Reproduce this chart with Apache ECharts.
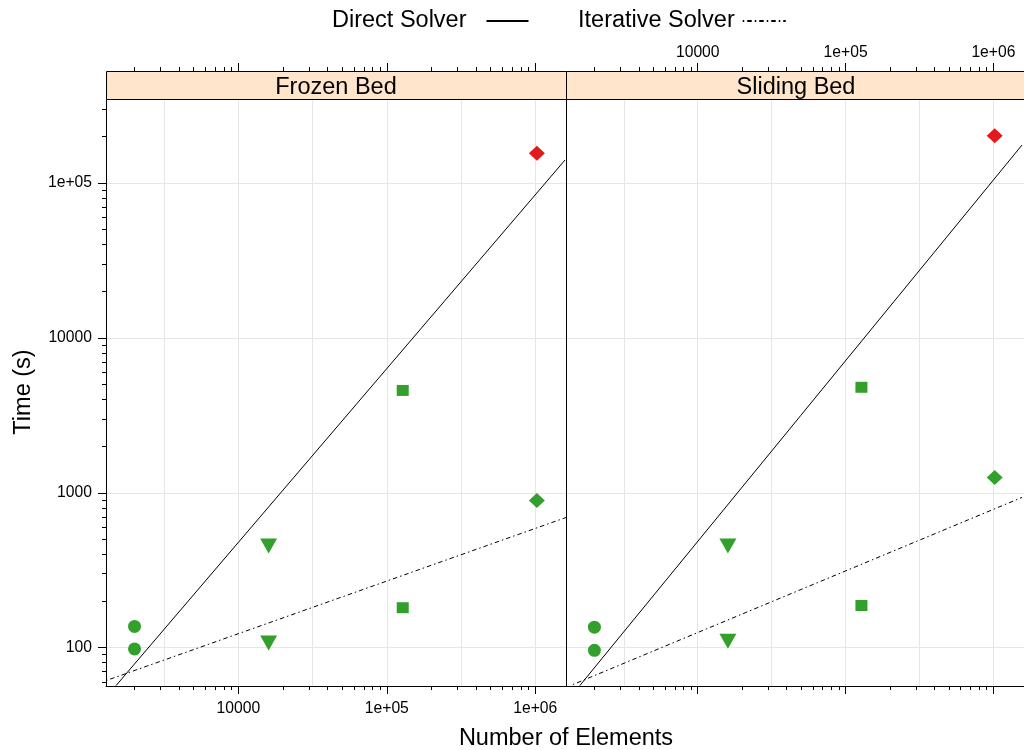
<!DOCTYPE html>
<html><head><meta charset="utf-8">
<script src="https://cdn.jsdelivr.net/npm/echarts@6/dist/echarts.min.js"></script>
<style>html,body{margin:0;padding:0;background:#fff}#c{width:1024px;height:750px}</style>
</head><body><div id="c"></div>
<script>
// ---------- data ----------
const panels = ['Frozen Bed', 'Sliding Bed'];
const legendNames = ['Direct Solver', 'Iterative Solver'];
const xTickValues = [1e4, 1e5, 1e6];
const xTickLabels = ['10000', '1e+05', '1e+06'];
const yTickValues = [100, 1000, 1e4, 1e5];
const yTickLabels = ['100', '1000', '10000', '1e+05'];
// Frozen Bed
const frozenCircle = [[2000, 137], [2000, 98]];
const frozenTriangle = [[16000, 453], [16000, 107]];
const frozenSquare = [[128000, 4580], [128000, 181]];
const frozenDiamond = [[1025000, 891]];
const frozenDiamondRed = [[1025000, 156000]];
const frozenDirect = [[1500, 56.8], [1585000, 140900]];
const frozenIterative = [[1285, 61.2], [1610000, 692]];
// Sliding Bed
const slidingCircle = [[2000, 135.5], [2000, 96]];
const slidingTriangle = [[16000, 453], [16000, 110]];
const slidingSquare = [[128000, 4800], [128000, 187]];
const slidingDiamond = [[1020000, 1256]];
const slidingDiamondRed = [[1020000, 202000]];
const slidingDirect = [[1592, 56.8], [1560000, 176000]];
const slidingIterative = [[1429, 57.7], [1560000, 933]];

// ---------- layout / style ----------
const FONT = 'Liberation Sans, Arial, Helvetica, sans-serif';
const xMin = 1285, xMax = 1610000, yMin = 56.5, yMax = 344000;
const GREEN = '#33a02c', RED = '#e31a1c';

function minorTicks(lo, hi) {
  const out = [];
  for (let d = 1; d <= 1e7; d *= 10) for (let m = 2; m <= 9; m++) {
    const v = d * m; if (v > lo && v < hi) out.push(v);
  }
  return out;
}
function halfDecades(lo, hi) {
  const out = [];
  for (let e = 0; e <= 14; e++) { const v = Math.pow(10, e / 2); if (v > lo && v < hi) out.push(v); }
  return out;
}
function fmtFrom(vals, labels) {
  return function (v) {
    let best = 0, bd = Infinity;
    vals.forEach((t, i) => { const d = Math.abs(Math.log10(v) - Math.log10(t)); if (d < bd) { bd = d; best = i; } });
    return bd < 1e-3 ? labels[best] : '';
  };
}
const xMinor = minorTicks(xMin, xMax), yMinor = minorTicks(yMin, yMax);
const xGrid = halfDecades(xMin, xMax);
const lineBlack = { color: '#000', width: 1 };

function baseX(g, extra) {
  return Object.assign({ type: 'log', logBase: 10, gridIndex: g, min: xMin, max: xMax,
    axisLine: { show: false }, axisTick: { show: false }, axisLabel: { show: false }, splitLine: { show: false } }, extra);
}
function baseY(g, extra) {
  return Object.assign({ type: 'log', logBase: 10, gridIndex: g, min: yMin, max: yMax,
    axisLine: { show: false }, axisTick: { show: false }, axisLabel: { show: false }, splitLine: { show: false } }, extra);
}
const labelStyle = { color: '#000', fontSize: 15.7, fontFamily: FONT };
const gridLine = { show: true, lineStyle: { color: '#e6e6e6', width: 1 } };

const xAxes = [];
const yAxes = [];
[0, 1].forEach(g => {
  xAxes.push(baseX(g, { position: 'bottom', axisTick: { show: false, customValues: xGrid }, splitLine: gridLine }));
  xAxes.push(baseX(g, { position: 'bottom', axisLine: { show: true, lineStyle: lineBlack },
    axisTick: { show: true, customValues: xTickValues, length: 8, lineStyle: lineBlack },
    axisLabel: Object.assign({ show: g === 0, customValues: xTickValues, margin: 15, formatter: fmtFrom(xTickValues, xTickLabels) }, labelStyle) }));
  xAxes.push(baseX(g, { position: 'bottom', axisTick: { show: true, customValues: xMinor, length: 4, lineStyle: lineBlack } }));
  xAxes.push(baseX(g, { position: 'top', offset: 29,
    axisTick: { show: true, customValues: xTickValues, length: 8, lineStyle: lineBlack },
    axisLabel: Object.assign({ show: g === 1, customValues: xTickValues, margin: 10, formatter: fmtFrom(xTickValues, xTickLabels) }, labelStyle) }));
  xAxes.push(baseX(g, { position: 'top', offset: 29, axisTick: { show: true, customValues: xMinor, length: 4, lineStyle: lineBlack } }));
});
yAxes.push(baseY(0, { position: 'left', axisTick: { show: false, customValues: yTickValues }, splitLine: gridLine }));
yAxes.push(baseY(0, { position: 'left', axisLine: { show: true, lineStyle: lineBlack },
  axisTick: { show: true, customValues: yTickValues, length: 8, lineStyle: lineBlack },
  axisLabel: Object.assign({ show: true, customValues: yTickValues, margin: 14, formatter: fmtFrom(yTickValues, yTickLabels) }, labelStyle) }));
yAxes.push(baseY(0, { position: 'left', axisTick: { show: true, customValues: yMinor, length: 4, lineStyle: lineBlack } }));
yAxes.push(baseY(0, { position: 'right', axisLine: { show: true, lineStyle: lineBlack } }));
yAxes.push(baseY(1, { position: 'left', axisTick: { show: false, customValues: yTickValues }, splitLine: gridLine }));
yAxes.push(baseY(1, { position: 'left', axisLine: { show: true, lineStyle: lineBlack } }));

const panelAxes = [{ x: 0, y: 0 }, { x: 5, y: 4 }];
const panelData = [
  { circle: frozenCircle, tri: frozenTriangle, sq: frozenSquare, dia: frozenDiamond, diaR: frozenDiamondRed, direct: frozenDirect, iter: frozenIterative },
  { circle: slidingCircle, tri: slidingTriangle, sq: slidingSquare, dia: slidingDiamond, diaR: slidingDiamondRed, direct: slidingDirect, iter: slidingIterative }
];
const series = [];
panelData.forEach((p, i) => {
  const ax = { xAxisIndex: panelAxes[i].x, yAxisIndex: panelAxes[i].y };
  series.push(Object.assign({ name: legendNames[0], type: 'line', data: p.direct, symbol: 'none', silent: true,
    lineStyle: { color: '#000', width: 1, type: 'solid' }, itemStyle: { color: '#000' }, z: 3 }, ax));
  series.push(Object.assign({ name: legendNames[1], type: 'line', data: p.iter, symbol: 'none', silent: true,
    lineStyle: { color: '#000', width: 1, type: [1.5, 3, 4.5, 3] }, itemStyle: { color: '#000' }, z: 3 }, ax));
  const sc = (name, data, symbol, size, color, rot) => Object.assign({ name, type: 'scatter', data, symbol, symbolSize: size,
    symbolRotate: rot || 0, itemStyle: { color, opacity: 1 }, z: 4, silent: true }, ax);
  series.push(sc('circle' + i, p.circle, 'circle', 13, GREEN));
  series.push(sc('triangle' + i, p.tri, 'triangle', [17, 15], GREEN, 180));
  series.push(sc('square' + i, p.sq, 'rect', [12, 11], GREEN));
  series.push(sc('diamond' + i, p.dia, 'diamond', [16, 15], GREEN));
  series.push(sc('diamondRed' + i, p.diaR, 'diamond', [16, 15], RED));
});

const bigText = { fontSize: 23.5, fontFamily: FONT, fill: '#000' };
const graphics = [];
panels.forEach((name, i) => {
  const x0 = 106 + i * 460;
  graphics.push({ type: 'rect', shape: { x: x0 + 0.5, y: 71.5, width: 460, height: 28 },
    style: { fill: '#ffe5cc', stroke: '#000', lineWidth: 1 }, z: 10 });
  graphics.push({ type: 'text', x: x0 + 230, y: 88, style: Object.assign({ text: name, align: 'center', verticalAlign: 'middle' }, bigText), z: 11 });
});
graphics.push({ type: 'text', x: 566, y: 739, style: Object.assign({ text: 'Number of Elements', align: 'center', verticalAlign: 'middle' }, bigText) });
graphics.push({ type: 'text', x: 24, y: 392, rotation: Math.PI / 2, style: Object.assign({ text: 'Time (s)', align: 'center', verticalAlign: 'middle' }, bigText) });

const legendBase = { top: 9, padding: 0, align: 'right', orient: 'horizontal', itemHeight: 14, selectedMode: false,
  itemStyle: { opacity: 0 } };
const option = {
  backgroundColor: '#fff',
  animation: false,
  legend: [
    Object.assign({ data: [legendNames[0]], left: 332, itemWidth: 42,
      textStyle: { fontSize: 23.5, fontFamily: FONT, color: '#000', padding: [0, 15, 0, 0] } }, legendBase),
    Object.assign({ data: [legendNames[1]], left: 578, itemWidth: 43,
      textStyle: { fontSize: 23.5, fontFamily: FONT, color: '#000', padding: [0, 3, 0, 0] } }, legendBase)
  ],
  grid: [
    { left: 106, top: 100, width: 460, height: 586, containLabel: false },
    { left: 566, top: 100, width: 460, height: 586, containLabel: false }
  ],
  xAxis: xAxes,
  yAxis: yAxes,
  series,
  graphic: graphics
};
const chart = echarts.init(document.getElementById('c'), null, { renderer: 'canvas' });
chart.setOption(option);
</script></body></html>
